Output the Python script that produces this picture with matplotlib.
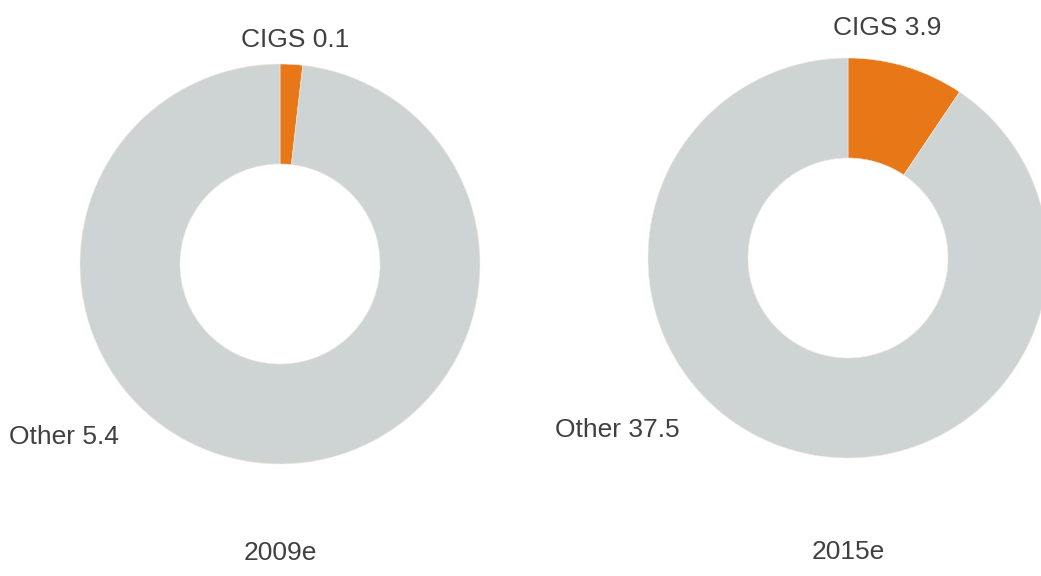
import matplotlib.pyplot as plt

# share of thin-film production (GW), two years
years = ["2009e", "2015e"]
cigs = [0.1, 3.9]
other = [5.4, 37.5]

ORANGE = "#E87817"
GREY = "#CED4D4"
TEXT = "#404040"

W, H = 1041, 576
plt.rcParams["font.family"] = ["Liberation Sans", "DejaVu Sans"]
fig = plt.figure(figsize=(W / 100, H / 100), dpi=100)
ax = fig.add_axes([0, 0, 1, 1])

# donut centres in pixels (y measured from the top of the picture)
centres = [(280, 264), (848, 258)]
radius = 200

for i, (cx, cy) in enumerate(centres):
    ax.pie(
        [cigs[i], other[i]],
        colors=[ORANGE, GREY],
        startangle=90,
        counterclock=False,
        radius=radius,
        center=(cx, H - cy),
        wedgeprops=dict(width=100, edgecolor="#F5EBDF", linewidth=0.4),
        frame=True,
    )

ax.set_xlim(0, W)
ax.set_ylim(0, H)
ax.set_aspect("auto")
ax.axis("off")

fs = 19
ax.text(295, H - 40, f"CIGS {cigs[0]}", ha="center", va="center", fontsize=fs, color=TEXT)
ax.text(9, H - 437, f"Other {other[0]}", ha="left", va="center", fontsize=fs, color=TEXT)
ax.text(887, H - 28, f"CIGS {cigs[1]}", ha="center", va="center", fontsize=fs, color=TEXT)
ax.text(555, H - 430, f"Other {other[1]}", ha="left", va="center", fontsize=fs, color=TEXT)
ax.text(280, H - 553, years[0], ha="center", va="center", fontsize=fs, color=TEXT)
ax.text(848, H - 552, years[1], ha="center", va="center", fontsize=fs, color=TEXT)

fig.savefig("out.png", dpi=100)
